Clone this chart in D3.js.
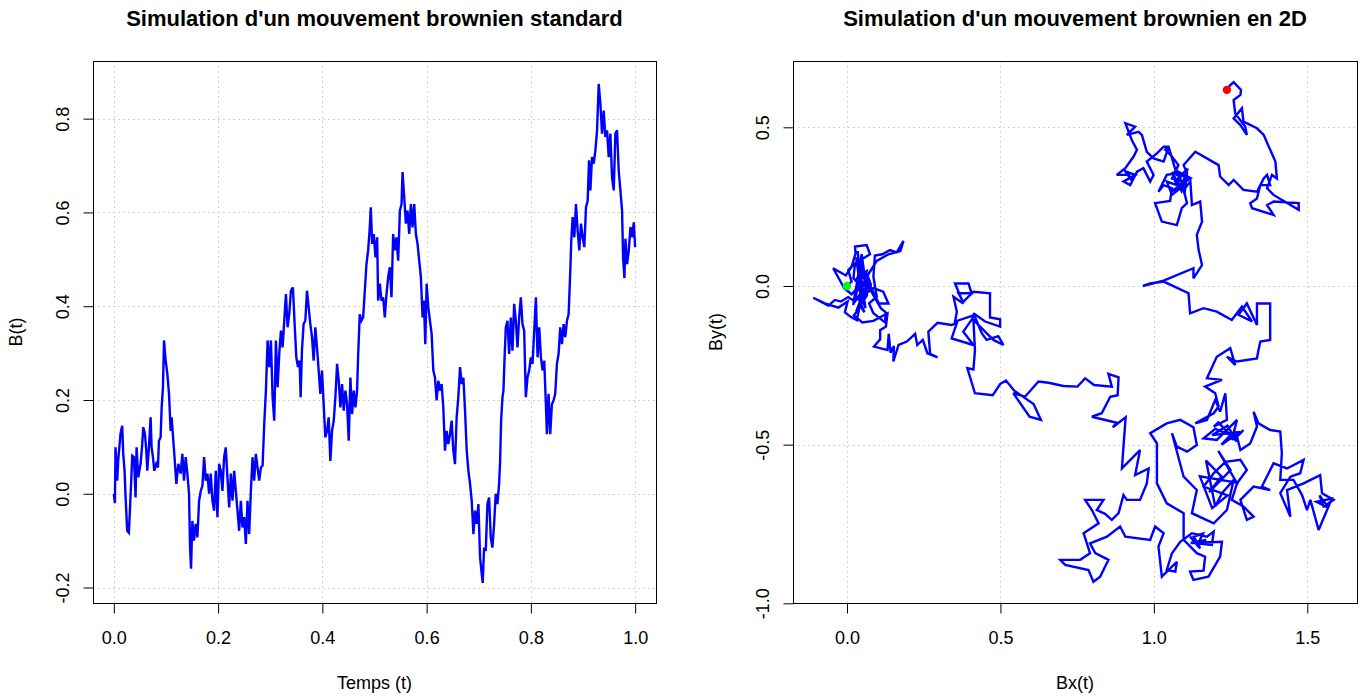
<!DOCTYPE html>
<html>
<head>
<meta charset="utf-8">
<script src="https://cdn.jsdelivr.net/npm/d3@7"></script>
<style>
  body { margin: 0; background: #fff; }
  text { font-family: "Liberation Sans", Arial, sans-serif; fill: #000; }
</style>
</head>
<body>
<svg id="chart" width="1366" height="697"></svg>
<script>
// left panel : B(t)
const temps = [0,0.002,0.0032,0.0064,0.0083,0.0128,0.016,0.018,0.0205,0.0224,0.0256,0.0288,0.0308,0.0333,0.0353,0.0385,0.0417,0.0436,0.0468,0.0513,
  0.0545,0.0564,0.0596,0.0622,0.0641,0.0673,0.0705,0.0724,0.075,0.0776,0.0814,0.0846,0.0865,0.0897,0.0917,0.0942,0.0962,0.0994,0.1026,0.1058,
  0.109,0.1109,0.1141,0.1173,0.1199,0.1237,0.1282,0.1314,0.1346,0.1378,0.141,0.1442,0.1462,0.1481,0.1506,0.1538,0.157,0.1603,0.1635,0.1667,
  0.1699,0.1731,0.1763,0.1795,0.1827,0.1859,0.1891,0.1923,0.1955,0.1987,0.2019,0.2051,0.2083,0.2115,0.2147,0.2179,0.2212,0.2244,0.2276,0.2308,
  0.234,0.2372,0.2404,0.2436,0.2468,0.25,0.2532,0.2564,0.2596,0.2628,0.266,0.2692,0.2724,0.2756,0.2788,0.2821,0.2853,0.2885,0.2917,0.2949,
  0.2981,0.3013,0.3045,0.3077,0.3109,0.3141,0.3173,0.3205,0.3237,0.3269,0.3301,0.3333,0.3365,0.3397,0.3435,0.3468,0.35,0.3532,0.3564,0.3583,
  0.3608,0.364,0.3673,0.3705,0.3737,0.3769,0.3801,0.3833,0.3865,0.3897,0.3929,0.3961,0.3993,0.4025,0.4057,0.4089,0.4121,0.4153,0.4185,0.4218,
  0.425,0.4282,0.4314,0.4346,0.4378,0.441,0.4442,0.4474,0.4506,0.4538,0.457,0.4602,0.4634,0.4666,0.4685,0.4717,0.4749,0.4782,0.4814,0.4846,
  0.4878,0.491,0.4929,0.4955,0.4987,0.5019,0.5051,0.507,0.5102,0.5134,0.5166,0.5198,0.523,0.5262,0.5294,0.5326,0.5358,0.539,0.5422,0.5454,
  0.5487,0.5519,0.5538,0.557,0.5602,0.5634,0.5666,0.5698,0.573,0.5762,0.5794,0.5826,0.5858,0.589,0.5922,0.5948,0.5974,0.6,0.6032,0.6064,
  0.6096,0.6128,0.616,0.6192,0.6224,0.6256,0.6288,0.632,0.6352,0.6384,0.6416,0.6448,0.648,0.6512,0.6544,0.6576,0.6608,0.6641,0.6673,0.6705,
  0.6737,0.6769,0.6801,0.6833,0.6865,0.6897,0.6929,0.6961,0.6993,0.7025,0.7057,0.7076,0.7102,0.7134,0.7166,0.7198,0.723,0.7262,0.7294,0.7326,
  0.7358,0.739,0.741,0.7429,0.7455,0.7474,0.7493,0.7519,0.7551,0.7583,0.7615,0.7647,0.7679,0.7711,0.7743,0.7775,0.7807,0.7839,0.7871,0.7903,
  0.7935,0.7967,0.8,0.8032,0.8064,0.8096,0.8128,0.816,0.8192,0.8224,0.8256,0.8288,0.8307,0.8339,0.8371,0.8403,0.8435,0.8467,0.8499,0.8531,
  0.8563,0.8596,0.8628,0.866,0.8692,0.8724,0.8756,0.8775,0.8801,0.8833,0.8865,0.8897,0.8929,0.8961,0.8993,0.9025,0.9057,0.9089,0.9115,0.9141,
  0.9173,0.9205,0.9237,0.9269,0.9301,0.9333,0.9365,0.9397,0.9429,0.9461,0.9493,0.9525,0.9557,0.9589,0.9621,0.9653,0.9685,0.9717,0.9749,0.9769,
  0.9794,0.9814,0.9846,0.9878,0.991,0.9942,0.9974,1.0];
const bt = [0,-0.02,0.099,0.028,0.07,0.128,0.145,0.085,0.05,-0.004,-0.079,-0.083,-0.036,0.028,0.081,0.078,-0.008,0.099,0.035,0.064,
  0.107,0.142,0.128,0.092,0.049,0.099,0.163,0.099,0.078,0.049,0.064,0.056,0.113,0.12,0.184,0.227,0.327,0.284,0.256,0.213,
  0.134,0.163,0.113,0.064,0.021,0.064,0.043,0.085,0.028,0.078,0.043,0,-0.115,-0.16,-0.058,-0.1,-0.064,-0.093,-0.015,0.006,
  0.017,0.078,0.028,0.043,0,0.043,-0.015,-0.036,0.049,-0.05,0.064,0.049,0.006,0.078,0.099,0.035,-0.029,0.043,-0.015,0.049,
  0.006,-0.036,-0.079,-0.015,-0.072,-0.05,-0.107,-0.015,-0.086,0.006,0.078,0.028,0.085,0.056,0.028,0.056,0.06,0.149,0.22,0.327,
  0.27,0.327,0.206,0.156,0.327,0.227,0.299,0.348,0.312,0.369,0.426,0.355,0.384,0.433,0.44,0.362,0.291,0.27,0.284,0.206,
  0.305,0.362,0.369,0.433,0.398,0.362,0.334,0.284,0.355,0.312,0.263,0.213,0.263,0.191,0.12,0.134,0.163,0.07,0.134,0.156,
  0.206,0.277,0.241,0.184,0.234,0.177,0.22,0.191,0.113,0.248,0.17,0.22,0.184,0.22,0.291,0.383,0.369,0.376,0.433,0.49,
  0.519,0.568,0.611,0.533,0.554,0.504,0.547,0.412,0.448,0.412,0.419,0.376,0.426,0.462,0.483,0.419,0.554,0.519,0.547,0.497,
  0.604,0.618,0.686,0.633,0.576,0.604,0.554,0.618,0.568,0.618,0.554,0.533,0.497,0.462,0.376,0.412,0.319,0.448,0.398,0.369,
  0.341,0.263,0.248,0.199,0.241,0.22,0.234,0.184,0.092,0.134,0.106,0.127,0.156,0.092,0.063,0.163,0.206,0.27,0.234,0.248,
  0.177,0.092,0.049,0.021,-0.015,-0.086,-0.036,-0.064,-0.022,-0.136,-0.171,-0.19,-0.115,-0.122,-0.022,-0.008,-0.093,-0.115,-0.065,0,
  -0.022,0.021,0.07,0.156,0.206,0.22,0.284,0.355,0.369,0.298,0.376,0.305,0.405,0.369,0.312,0.376,0.419,0.362,0.348,0.206,
  0.248,0.263,0.291,0.277,0.348,0.419,0.291,0.355,0.291,0.263,0.284,0.191,0.127,0.213,0.127,0.191,0.199,0.213,0.277,0.298,
  0.355,0.319,0.362,0.334,0.369,0.383,0.476,0.54,0.59,0.547,0.618,0.561,0.519,0.576,0.547,0.526,0.611,0.625,0.711,0.647,
  0.718,0.704,0.732,0.775,0.874,0.832,0.768,0.817,0.761,0.775,0.718,0.768,0.675,0.647,0.768,0.775,0.689,0.647,0.604,0.504,
  0.46,0.544,0.49,0.519,0.569,0.547,0.579,0.526];

// right panel : (Bx(t), By(t)), in path order
const bx = [0,0.015,0.004,0.026,0.021,0.042,0.015,-0.009,-0.045,-0.004,0.015,0.028,0.026,0.064,0.075,0.05,0.042,0.064,0.054,0.08,
  0.042,0.026,0.004,-0.02,-0.039,-0.061,-0.11,-0.072,-0.028,0.002,-0.007,0.013,0.032,0.042,0.057,0.037,0.086,0.118,0.135,0.104,
  0.03,0.045,0.035,0.05,0.04,0.06,0.03,0.055,0.02,0.048,0.065,0.03,0.07,0.04,0.11,
  0.126,0.124,0.086,0.072,0.097,0.086,0.091,0.115,0.14,0.162,0.184,0.174,0.135,0.097,0.067,0.078,0.057,0.035,0.022,0.05,0.086,
  0.132,0.127,0.108,0.108,0.088,0.132,0.136,0.142,0.153,0.151,0.168,0.195,0.222,0.229,0.247,0.262,0.295,0.271,0.265,0.295,
  0.341,0.358,0.341,0.412,0.379,0.417,0.352,0.358,0.347,0.379,0.352,0.396,0.406,0.363,0.379,0.412,0.466,0.466,0.499,0.499,
  0.45,0.412,0.439,0.455,0.493,0.51,0.477,0.45,0.412,0.417,0.412,0.392,0.417,0.475,0.499,0.518,0.545,0.608,0.632,0.595,
  0.542,0.58,0.624,0.657,0.705,0.751,0.776,0.805,0.863,0.852,0.885,0.882,0.858,0.83,0.798,
  0.879,0.866,0.908,0.901,0.896,0.955,0.939,0.983,0.977,0.955,0.912,0.901,0.885,0.863,0.841,0.814,0.836,0.776,0.798,0.82,
  0.771,0.792,0.76,0.695,0.711,0.787,0.803,0.825,0.852,0.809,0.792,0.847,0.89,0.907,0.988,1.004,1.032,1.015,1.026,1.075,
  1.07,1.042,1.059,1.086,1.124,1.173,1.195,1.189,1.14,1.118,1.151,1.13,1.16,1.14,1.17,1.12,1.222,1.216,1.178,1.129,1.118,1.162,1.167,1.14,1.097,
  1.097,1.042,1.01,1.01,0.988,1.042,1.086,1.129,1.14,1.108,1.075,1.059,1.097,1.14,1.124,1.195,1.238,1.26,1.222,1.2,
  1.17,1.22,1.18,1.25,1.21,1.27,1.15,1.19,1.24,
  1.162,1.195,1.233,1.282,1.303,1.271,1.254,1.292,1.325,1.303,1.282,1.325,1.379,1.352,1.39,1.434,1.488,1.477,1.445,1.412,
  1.445,1.434,1.488,1.542,1.548,1.586,1.553,1.54,1.57,1.53,1.58,1.537,1.51,1.499,1.483,1.455,1.412,1.417,1.412,1.379,1.341,1.325,1.336,1.314,
  1.282,1.271,1.292,1.254,1.271,1.238,1.205,1.162,1.2,1.25,1.22,1.28,1.19,1.24,1.27,1.21,1.195,1.238,1.233,1.216,1.2,1.173,1.135,1.195,1.211,
  1.2,1.167,1.222,1.173,1.205,1.249,1.265,1.238,1.271,1.336,1.341,1.347,1.379,1.379,1.336,1.336,1.303,1.276,1.32,1.287,
  1.254,1.205,1.162,1.118,1.113,1.032,0.988,0.964,1.032,1.129,1.129,1.157,1.146,
  1.14,1.157,1.151,1.124,1.119,1.097,1.108,1.091,1.075,1.026,1.004,1.053,1.059,1.032,1.015,1.042,1.075,1.091,1.059,1.08,
  1.059,1.037,1.048,1.032,0.999,0.977,0.961,0.95,0.912,0.939,0.907,0.928,0.945,0.934,0.907,0.879,0.917,0.9,0.93,0.91,0.94,0.901,0.923,0.945,
  0.966,0.988,0.999,0.977,1.01,1.032,1.048,1.075,1.102,1.086,1.059,1.042,1.075,1.06,1.09,1.11,1.07,1.1,1.06,1.12,1.08,1.1,1.108,1.097,1.135,1.211,1.216,1.244,1.26,
  1.292,1.336,1.358,1.369,1.379,1.347,1.336,1.314,1.32,1.39,1.369,1.39,1.472,1.472,1.39,1.369,1.385,1.401,1.396,1.358,
  1.336,1.292,1.287,1.26,1.282,1.303,1.298,1.265,1.26,1.282,1.284,1.26,1.249,1.238];
const by = [0,0.014,0.05,0.071,0.024,0.003,-0.026,-0.007,0.056,0.033,0.061,0.103,0.124,0.129,0.1,0.085,0.035,0.047,0.003,-0.013,
  -0.026,-0.049,-0.035,-0.049,-0.044,-0.062,-0.037,-0.055,-0.068,-0.049,-0.083,-0.098,-0.108,-0.06,-0.083,-0.039,-0.007,-0.018,-0.055,-0.055,
  0.09,-0.02,0.11,-0.05,0.07,-0.07,0.02,0.06,-0.06,0.1,-0.03,-0.08,0.02,0.05,-0.07,
  -0.083,-0.115,-0.086,-0.055,-0.034,0.029,0.096,0.1,0.113,0.106,0.142,0.11,0.1,0.079,0.033,0.003,-0.041,-0.076,-0.093,-0.115,-0.11,
  -0.086,-0.128,-0.139,-0.168,-0.191,-0.202,-0.151,-0.21,-0.189,-0.238,-0.186,-0.175,-0.151,-0.186,-0.17,-0.212,-0.225,-0.214,-0.144,-0.116,
  -0.123,-0.116,-0.165,-0.186,-0.144,-0.091,-0.112,-0.081,-0.034,-0.055,0.008,0.008,-0.023,-0.023,-0.05,-0.018,-0.023,-0.099,-0.105,-0.128,
  -0.112,-0.086,-0.149,-0.17,-0.158,-0.186,-0.17,-0.144,-0.107,-0.202,-0.263,-0.259,-0.338,-0.344,-0.309,-0.298,-0.33,-0.372,-0.422,-0.412,
  -0.338,-0.349,-0.301,-0.305,-0.315,-0.317,-0.291,-0.312,-0.317,-0.277,-0.288,-0.344,-0.349,-0.401,-0.412,
  -0.431,-0.445,-0.414,-0.506,-0.575,-0.517,-0.596,-0.575,-0.622,-0.674,-0.674,-0.659,-0.716,-0.737,-0.718,-0.706,-0.674,-0.674,-0.706,-0.748,
  -0.779,-0.842,-0.863,-0.863,-0.879,-0.895,-0.932,-0.916,-0.863,-0.842,-0.811,-0.79,-0.758,-0.79,-0.8,-0.758,-0.779,-0.821,-0.916,-0.869,
  -0.9,-0.895,-0.842,-0.806,-0.779,-0.79,-0.774,-0.816,-0.811,-0.79,-0.827,-0.79,-0.78,-0.82,-0.8,-0.81,-0.806,-0.853,-0.916,-0.926,-0.9,-0.897,-0.853,-0.842,-0.8,
  -0.716,-0.685,-0.622,-0.496,-0.464,-0.433,-0.422,-0.445,-0.501,-0.522,-0.506,-0.464,-0.601,-0.643,-0.716,-0.748,-0.706,-0.611,-0.653,-0.695,
  -0.55,-0.6,-0.65,-0.58,-0.52,-0.62,-0.6,-0.7,-0.66,
  -0.632,-0.59,-0.554,-0.548,-0.58,-0.622,-0.674,-0.695,-0.727,-0.737,-0.674,-0.632,-0.643,-0.632,-0.559,-0.575,-0.548,-0.59,-0.601,-0.653,
  -0.727,-0.643,-0.622,-0.596,-0.653,-0.674,-0.695,-0.66,-0.7,-0.68,-0.67,-0.769,-0.674,-0.706,-0.659,-0.611,-0.611,-0.527,-0.459,-0.454,-0.433,-0.396,-0.443,-0.496,
  -0.517,-0.475,-0.454,-0.485,-0.422,-0.454,-0.485,-0.48,-0.45,-0.47,-0.5,-0.46,-0.47,-0.44,-0.49,-0.43,-0.443,-0.422,-0.338,-0.396,-0.359,-0.422,-0.433,-0.401,-0.38,
  -0.338,-0.317,-0.296,-0.291,-0.223,-0.196,-0.249,-0.223,-0.238,-0.228,-0.202,-0.175,-0.17,-0.055,-0.055,-0.123,-0.055,-0.091,-0.112,-0.065,
  -0.107,-0.081,-0.07,-0.086,-0.023,0.014,0.008,0,0.017,0.056,0.024,0.066,0.113,
  0.161,0.203,0.266,0.255,0.329,0.303,0.261,0.245,0.192,0.203,0.261,0.268,0.308,0.318,0.297,0.35,0.355,0.329,0.339,0.381,
  0.408,0.429,0.439,0.392,0.402,0.423,0.476,0.486,0.476,0.502,0.513,0.46,0.429,0.408,0.371,0.35,0.35,0.37,0.33,0.36,0.35,0.329,0.318,0.36,
  0.371,0.329,0.35,0.392,0.418,0.439,0.439,0.35,0.345,0.308,0.287,0.329,0.318,0.36,0.3,0.37,0.33,0.31,0.3,0.34,0.36,0.29,0.355,0.381,0.423,0.381,0.345,0.318,0.334,
  0.303,0.297,0.339,0.35,0.318,0.318,0.276,0.261,0.245,0.224,0.255,0.266,0.261,0.24,0.287,0.308,0.35,0.339,0.392,0.476,
  0.497,0.518,0.56,0.528,0.507,0.476,0.502,0.544,0.586,0.602,0.618,0.642,0.633,0.618];

const ticksT = [0, 0.2, 0.4, 0.6, 0.8, 1.0];
const ticksB = [-0.2, 0, 0.2, 0.4, 0.6, 0.8];
const ticksBx = [0, 0.5, 1.0, 1.5];
const ticksBy = [-1.0, -0.5, 0, 0.5];

const svg = d3.select('#chart');
svg.append('rect').attr('width', 1366).attr('height', 697).attr('fill', '#fff');

function panel(p) {
  let g = svg.append('g');
  let x = d3.scaleLinear().domain(p.xDom).range([p.left, p.right]);
  let y = d3.scaleLinear().domain(p.yDom).range([p.bottom, p.top]);
  let cx = (p.left + p.right) / 2, cy = (p.top + p.bottom) / 2;

  // grid (dotted, like grid() in R)
  g.selectAll('.gx').data(p.xTicks).join('line')
    .attr('x1', d => Math.round(x(d)) + 0.5).attr('x2', d => Math.round(x(d)) + 0.5)
    .attr('y1', p.top).attr('y2', p.bottom)
    .attr('stroke', '#d3d3d3').attr('stroke-dasharray', '2,3');
  g.selectAll('.gy').data(p.yTicks).join('line')
    .attr('y1', d => Math.round(y(d)) + 0.5).attr('y2', d => Math.round(y(d)) + 0.5)
    .attr('x1', p.left).attr('x2', p.right)
    .attr('stroke', '#d3d3d3').attr('stroke-dasharray', '2,3');

  // axes
  let ax = g.append('g').attr('transform', `translate(0,${p.bottom + 0.5})`)
    .call(d3.axisBottom(x).tickValues(p.xTicks).tickSize(10).tickFormat(d3.format('.1f')));
  ax.select('.domain').remove();
  ax.selectAll('text').attr('y', 40).attr('dy', 0).style('font-size', '18px').style('font-family', null);
  let ay = g.append('g').attr('transform', `translate(${p.left + 0.5},0)`)
    .call(d3.axisLeft(y).tickValues(p.yTicks).tickSize(10).tickFormat(d3.format('.1f')));
  ay.select('.domain').remove();
  ay.selectAll('text').attr('transform', 'rotate(-90)').attr('x', 0).attr('y', -25).attr('dy', 0)
    .attr('text-anchor', 'middle').style('font-size', '18px').style('font-family', null);
  g.selectAll('.tick line').attr('stroke', '#000');
  g.selectAll('.tick text').text(d => d3.format('.1f')(d).replace('−', '-'));

  // path
  g.append('path').datum(p.points)
    .attr('d', d3.line().x(d => x(d[0])).y(d => y(d[1])))
    .attr('fill', 'none').attr('stroke', 'blue').attr('stroke-width', 2.4)
    .attr('stroke-linejoin', 'miter').attr('stroke-miterlimit', 3);

  if (p.marks) {
    g.selectAll('.mk').data(p.marks).join('circle')
      .attr('cx', d => x(d.pt[0])).attr('cy', d => y(d.pt[1])).attr('r', 4.2)
      .attr('fill', d => d.col);
  }

  // box
  g.append('rect').attr('x', p.left + 0.5).attr('y', p.top + 0.5)
    .attr('width', p.right - p.left).attr('height', p.bottom - p.top)
    .attr('fill', 'none').attr('stroke', '#000');

  g.append('text').attr('x', cx).attr('y', 26).attr('text-anchor', 'middle')
    .style('font-size', '22px').style('font-weight', 'bold').text(p.title);
  g.append('text').attr('x', cx).attr('y', 689).attr('text-anchor', 'middle')
    .style('font-size', '18px').text(p.xlab);
  g.append('text').attr('transform', `translate(${p.left - 71},${cy}) rotate(-90)`).attr('text-anchor', 'middle')
    .style('font-size', '18px').text(p.ylab);
}

panel({
  left: 93, right: 656, top: 61, bottom: 603,
  xDom: [-0.04, 1.04], yDom: [-0.233, 0.923],
  xTicks: ticksT, yTicks: ticksB,
  points: d3.zip(temps, bt),
  title: "Simulation d'un mouvement brownien standard",
  xlab: 'Temps (t)', ylab: 'B(t)'
});

let path2d = d3.zip(bx, by);
panel({
  left: 793, right: 1357, top: 61, bottom: 603,
  xDom: [-0.176, 1.662], yDom: [-0.999, 0.709],
  xTicks: ticksBx, yTicks: ticksBy,
  points: path2d,
  marks: [{pt: path2d[0], col: '#00ff00'}, {pt: path2d[path2d.length - 1], col: '#ff0000'}],
  title: "Simulation d'un mouvement brownien en 2D",
  xlab: 'Bx(t)', ylab: 'By(t)'
});
</script>
</body>
</html>
